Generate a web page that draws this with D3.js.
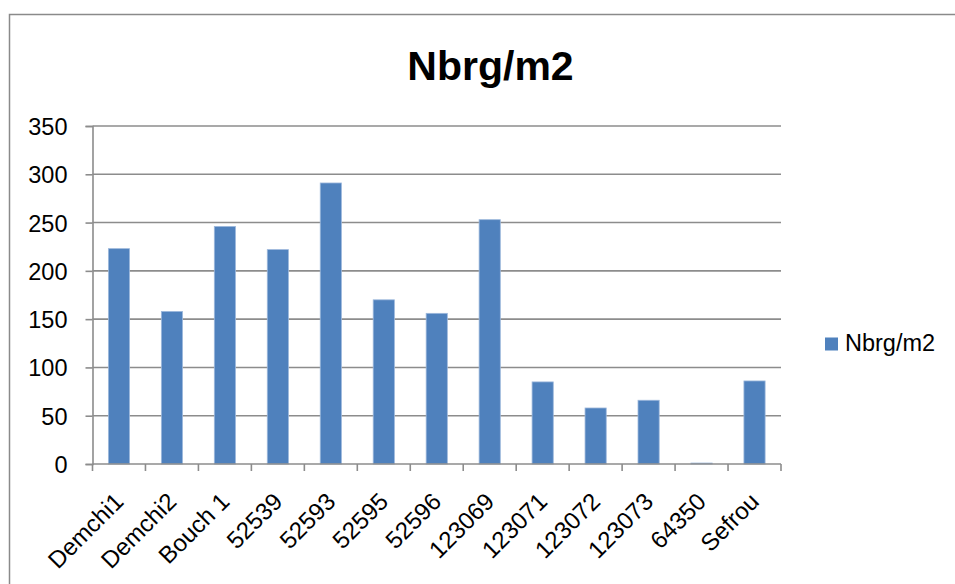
<!DOCTYPE html>
<html>
<head>
<meta charset="utf-8">
<script src="https://cdn.jsdelivr.net/npm/d3@7"></script>
<style>
  html, body { margin: 0; padding: 0; background: #fff; }
  svg { display: block; }
  text { font-family: "Liberation Sans", Arial, sans-serif; fill: #000; }
</style>
</head>
<body>
<script>
const categories = ["Demchi1", "Demchi2", "Bouch 1", "52539", "52593", "52595", "52596", "123069", "123071", "123072", "123073", "64350", "Sefrou"];
const values = [223, 158, 246, 222, 291, 170, 156, 253, 85, 58, 66, 1, 86];
const yTicks = [0, 50, 100, 150, 200, 250, 300, 350];
const seriesName = "Nbrg/m2";
const chartTitle = "Nbrg/m2";

const W = 955, H = 584;
const margin = { left: 92.5, right: 955 - 781, top: 126, bottom: 584 - 464 };

const svg = d3.select("body").append("svg").attr("width", W).attr("height", H);

// outer chart border
svg.append("path")
  .attr("d", `M9.5,${H + 2} L9.5,14.5 L${W + 2},14.5`)
  .attr("fill", "none").attr("stroke", "#8a8a8a").attr("stroke-width", 1.5);

const x = d3.scaleBand().domain(categories)
  .range([margin.left, W - margin.right])
  .paddingInner(0.6).paddingOuter(0.3);
const step = x.step();
const y = d3.scaleLinear().domain([0, 350]).range([H - margin.bottom, margin.top]);

// gridlines
svg.append("g").selectAll("line").data(yTicks.filter(d => d > 0)).join("line")
  .attr("x1", margin.left).attr("x2", W - margin.right)
  .attr("y1", d => y(d)).attr("y2", d => y(d))
  .attr("stroke", "#8c8c8c").attr("stroke-width", 1.6);

// bars
svg.append("g").selectAll("rect").data(values).join("rect")
  .attr("x", (d, i) => x(categories[i]))
  .attr("width", x.bandwidth())
  .attr("y", d => y(d))
  .attr("height", d => y(0) - y(d))
  .attr("fill", "#4F81BD")
  .attr("stroke", "#9db8dc").attr("stroke-width", 0.8);

// y axis
const yAxis = d3.axisLeft(y).tickValues(yTicks).tickSize(7).tickPadding(18).tickFormat(d3.format("d"));
const gy = svg.append("g").attr("transform", `translate(${margin.left},0)`).call(yAxis);
gy.select(".domain").attr("stroke", "#8c8c8c").attr("stroke-width", 1.6);
gy.selectAll(".tick line").attr("stroke", "#8c8c8c").attr("stroke-width", 1.6);
gy.selectAll(".tick text").attr("font-size", 23.5).attr("font-family", "Liberation Sans, Arial, sans-serif").attr("fill", "#000").attr("dy", "0.36em");

// x axis: ticks at category boundaries
const gx = svg.append("g").attr("transform", `translate(0,${y(0)})`);
gx.append("line").attr("x1", margin.left).attr("x2", W - margin.right)
  .attr("stroke", "#8c8c8c").attr("stroke-width", 1.6);
const boundaries = categories.map(c => x(c) - step * 0.3).concat([W - margin.right]);
gx.selectAll("line.tk").data(boundaries).join("line").attr("class", "tk")
  .attr("x1", d => d).attr("x2", d => d).attr("y1", 0).attr("y2", 7)
  .attr("stroke", "#8c8c8c").attr("stroke-width", 1.6);
gx.selectAll("text").data(categories).join("text")
  .attr("text-anchor", "end")
  .attr("font-size", 24)
  .attr("transform", c => `translate(${x(c) + x.bandwidth() / 2 + 6},${39}) rotate(-45)`)
  .text(c => c);

// title
svg.append("text").attr("x", 490.5).attr("y", 80).attr("text-anchor", "middle")
  .attr("font-size", 41).attr("font-weight", "bold").text(chartTitle);

// legend
const lg = svg.append("g");
lg.append("rect").attr("x", 825).attr("y", 337.5).attr("width", 13).attr("height", 13).attr("fill", "#4F81BD");
lg.append("text").attr("x", 845).attr("y", 351).attr("font-size", 23.5).text(seriesName);
</script>
</body>
</html>
